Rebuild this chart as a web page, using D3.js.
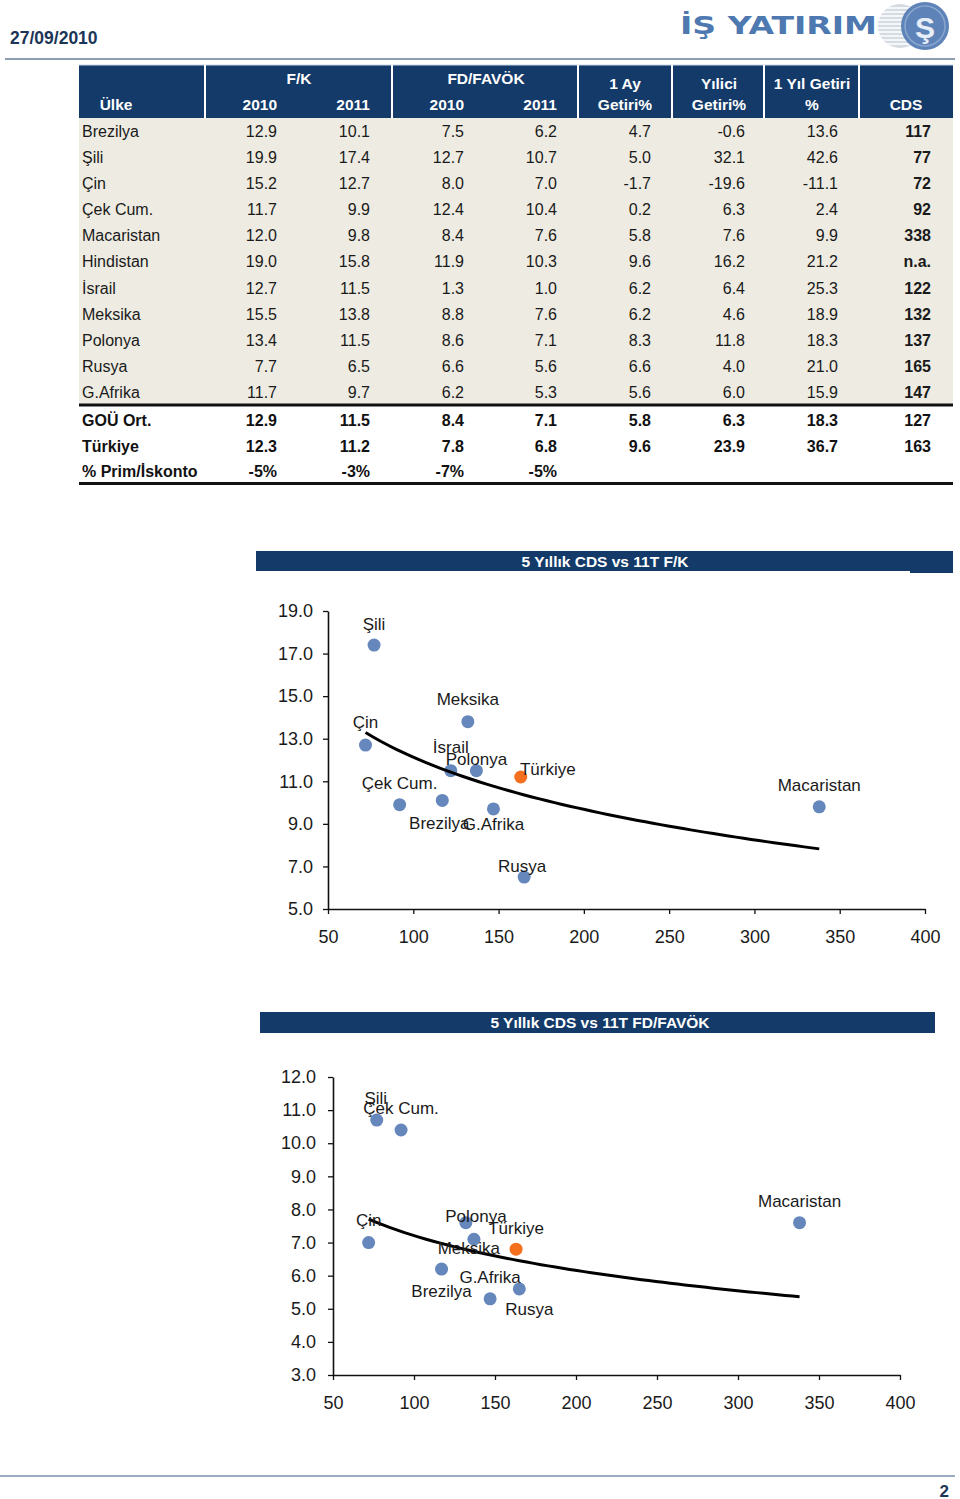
<!DOCTYPE html>
<html><head><meta charset="utf-8">
<script src="https://cdn.jsdelivr.net/npm/d3@7"></script>
<style>
html,body{margin:0;padding:0;background:#fff;}
svg{display:block;font-family:"Liberation Sans",Arial,sans-serif;}
</style></head>
<body>
<svg id="page" width="960" height="1499"></svg>
<script>
// ---------- DATA ----------
const countries = ["Brezilya","Şili","Çin","Çek Cum.","Macaristan","Hindistan","İsrail","Meksika","Polonya","Rusya","G.Afrika"];
const fk2010  = [12.9,19.9,15.2,11.7,12.0,19.0,12.7,15.5,13.4,7.7,11.7];
const fk2011  = [10.1,17.4,12.7,9.9,9.8,15.8,11.5,13.8,11.5,6.5,9.7];
const fd2010  = [7.5,12.7,8.0,12.4,8.4,11.9,1.3,8.8,8.6,6.6,6.2];
const fd2011  = [6.2,10.7,7.0,10.4,7.6,10.3,1.0,7.6,7.1,5.6,5.3];
const ret1m   = [4.7,5.0,-1.7,0.2,5.8,9.6,6.2,6.2,8.3,6.6,5.6];
const retYtd  = [-0.6,32.1,-19.6,6.3,7.6,16.2,6.4,4.6,11.8,4.0,6.0];
const ret1y   = [13.6,42.6,-11.1,2.4,9.9,21.2,25.3,18.9,18.3,21.0,15.9];
const cds     = [117,77,72,92,338,null,122,132,137,165,147];

const summaryLabels = ["GOÜ Ort.","Türkiye","% Prim/İskonto"];
const gouAvg   = [12.9,11.5,8.4,7.1,5.8,6.3,18.3,127];
const turkey   = [12.3,11.2,7.8,6.8,9.6,23.9,36.7,163];
const premium  = ["-5%","-3%","-7%","-5%"];
const turkeyName = "Türkiye";

const headerGroups = ["F/K","FD/FAVÖK"];
const headerYears  = ["2010","2011","2010","2011"];
const headerCols   = [["1 Ay","Getiri%"],["Yılici","Getiri%"],["1 Yıl Getiri","%"]];

const xTicks   = [50,100,150,200,250,300,350,400];
const yTicksFK = [5,7,9,11,13,15,17,19];
const yTicksFD = [3,4,5,6,7,8,9,10,11,12];

const title1 = "5 Yıllık CDS vs 11T F/K";
const title2 = "5 Yıllık CDS vs 11T FD/FAVÖK";
const dateText = "27/09/2010";
const pageNo = "2";

// ---------- LAYOUT / STYLE ----------
const NAVY = "#133a68", BLUE = "#6587bc", ORANGE = "#f4701e", BODY_BG = "#eeece2";
const labelOffFK = {"Şili":[0,-21],"Meksika":[0,-23],"Çin":[0,-23],"İsrail":[0,-24],"Polonya":[0,-12],
  "Türkiye":[27,-8],"Çek Cum.":[0,-22],"Macaristan":[0,-22],"Brezilya":[-3,22],"G.Afrika":[0,15],"Rusya":[-2,-11]};
const labelOffFD = {"Şili":[-1,-22],"Çek Cum.":[0,-22],"Macaristan":[0,-22],"Çin":[0,-23],"Polonya":[2,-23],
  "Meksika":[3,25],"Türkiye":[0,-21],"G.Afrika":[0,-22],"Brezilya":[0,22],"Rusya":[10,20]};

const svg = d3.select("#page");
const f1 = v => v.toFixed(1);

// ---------- PAGE HEADER ----------
svg.append("text").attr("x",10).attr("y",38).attr("dy","0.35em")
  .attr("font-size",17.5).attr("font-weight","bold").attr("fill","#1d3557").text(dateText);
svg.append("line").attr("x1",5).attr("x2",955).attr("y1",59).attr("y2",59)
  .attr("stroke","#8d9db2").attr("stroke-width",2);
// logo
const logo = svg.append("g");
logo.append("text").attr("x",680).attr("y",25).attr("dy","0.36em")
  .attr("font-family","DejaVu Sans").attr("font-weight","bold").attr("font-size",24)
  .attr("fill","#4e78b0").attr("textLength",197).attr("lengthAdjust","spacingAndGlyphs").text("İŞ YATIRIM");
logo.append("circle").attr("cx",900).attr("cy",26).attr("r",22).attr("fill","#d5dbe2");
d3.range(8,46,4).forEach(k=>logo.append("line").attr("x1",878).attr("x2",922)
  .attr("y1",k).attr("y2",k).attr("stroke","#fff").attr("stroke-width",1.3));
logo.append("circle").attr("cx",925).attr("cy",26).attr("r",24).attr("fill","#5e83b8");
logo.append("circle").attr("cx",925).attr("cy",26).attr("r",20).attr("fill","none").attr("stroke","#89a6cf").attr("stroke-width",1.5);
logo.append("text").attr("x",925).attr("y",27).attr("dy","0.35em").attr("text-anchor","middle")
  .attr("font-size",30).attr("font-weight","bold").attr("fill","#e8eef7").text("Ş");

// ---------- TABLE ----------
const T = {x0:79,x1:953,hTop:65,hBot:118,bodyBot:404};
const colRight = [277,370,464,557,651,745,838,931];
const seps = [205,392,578,672,764,859];
svg.append("rect").attr("x",T.x0).attr("y",T.hTop).attr("width",T.x1-T.x0).attr("height",T.hBot-T.hTop).attr("fill",NAVY);
svg.append("rect").attr("x",T.x0).attr("y",T.hBot).attr("width",T.x1-T.x0).attr("height",T.bodyBot-T.hBot).attr("fill",BODY_BG);
svg.append("line").attr("x1",T.x0).attr("x2",T.x1).attr("y1",T.hTop).attr("y2",T.hTop).attr("stroke","#c9d6e6").attr("stroke-width",1);
seps.forEach(s=>svg.append("line").attr("x1",s).attr("x2",s).attr("y1",T.hTop).attr("y2",T.hBot).attr("stroke","#fff").attr("stroke-width",2));
const hdr = svg.append("g").attr("fill","#fff").attr("font-weight","bold").attr("font-size",15.5).attr("text-anchor","middle");
hdr.append("text").attr("x",116).attr("y",105).attr("dy","0.35em").text("Ülke");
headerGroups.forEach((g,i)=>hdr.append("text").attr("x",[299,486][i]).attr("y",79).attr("dy","0.35em").text(g));
headerYears.forEach((g,i)=>hdr.append("text").attr("x",colRight[i]).attr("y",105).attr("dy","0.35em").attr("text-anchor","end").text(g));
headerCols.forEach((c,i)=>{
  const cx=[625,719,812][i];
  hdr.append("text").attr("x",cx).attr("y",84).attr("dy","0.35em").text(c[0]);
  hdr.append("text").attr("x",cx).attr("y",105).attr("dy","0.35em").text(c[1]);
});
hdr.append("text").attr("x",906).attr("y",105).attr("dy","0.35em").text("CDS");

const rowY = d3.scaleLinear().domain([0,10]).range([131,392.5]);
const body = svg.append("g").attr("font-size",16).attr("fill","#1a1a1a");
countries.forEach((c,i)=>{
  const y = rowY(i);
  body.append("text").attr("x",82).attr("y",y).attr("dy","0.35em").text(c);
  const vals=[fk2010[i],fk2011[i],fd2010[i],fd2011[i],ret1m[i],retYtd[i],ret1y[i]];
  vals.forEach((v,j)=>body.append("text").attr("x",colRight[j]).attr("y",y).attr("dy","0.35em").attr("text-anchor","end").text(f1(v)));
  body.append("text").attr("x",colRight[7]).attr("y",y).attr("dy","0.35em").attr("text-anchor","end")
    .attr("font-weight","bold").text(cds[i]==null?"n.a.":cds[i]);
});
svg.append("rect").attr("x",T.x0).attr("y",403.5).attr("width",T.x1-T.x0).attr("height",3).attr("fill","#111");
svg.append("rect").attr("x",T.x0).attr("y",482).attr("width",T.x1-T.x0).attr("height",3).attr("fill","#111");
const sumY=[420,446,471];
const sumRows=[gouAvg,turkey,premium];
const sg = svg.append("g").attr("font-size",16).attr("font-weight","bold").attr("fill","#111");
summaryLabels.forEach((l,i)=>{
  sg.append("text").attr("x",82).attr("y",sumY[i]).attr("dy","0.35em").text(l);
  sumRows[i].forEach((v,j)=>sg.append("text").attr("x",colRight[j]).attr("y",sumY[i]).attr("dy","0.35em")
    .attr("text-anchor","end").text(typeof v==="string"?v:(j===7?v:f1(v))));
});

// ---------- SCATTER CHARTS ----------
function logFit(xs,ys){
  const lx=xs.map(Math.log), mx=d3.mean(lx), my=d3.mean(ys);
  const b=d3.sum(lx,(v,i)=>(v-mx)*(ys[i]-my))/d3.sum(lx,v=>(v-mx)**2);
  return {a:my-b*mx,b};
}
function scatter(opt){
  const g = svg.append("g");
  g.append("rect").attr("x",opt.bar[0]).attr("y",opt.bar[1]).attr("width",opt.bar[2]).attr("height",opt.bar[3]).attr("fill",NAVY);
  if(opt.step) g.append("rect").attr("x",opt.step[0]).attr("y",opt.step[1]).attr("width",opt.step[2]).attr("height",opt.step[3]).attr("fill",NAVY);
  g.append("text").attr("x",opt.titleX).attr("y",opt.bar[1]+opt.bar[3]/2).attr("dy","0.36em").attr("text-anchor","middle")
    .attr("fill","#fff").attr("font-weight","bold").attr("font-size",15.5).text(opt.title);
  const x = d3.scaleLinear().domain([50,400]).range(opt.xr);
  const y = d3.scaleLinear().domain(opt.yd).range(opt.yr);
  const ax = g.append("g").attr("transform",`translate(0,${opt.yr[0]})`)
    .call(d3.axisBottom(x).tickValues(xTicks).tickSize(5).tickSizeOuter(0).tickPadding(16).tickFormat(d3.format("d")));
  const ay = g.append("g").attr("transform",`translate(${opt.xr[0]},0)`)
    .call(d3.axisLeft(y).tickValues(opt.yt).tickSize(5).tickSizeOuter(0).tickPadding(opt.yPad).tickFormat(f1));
  [ax,ay].forEach(a=>{
    a.select(".domain").attr("stroke","#111").attr("stroke-width",1.6);
    a.selectAll(".tick line").attr("stroke","#111").attr("stroke-width",1.3);
    a.selectAll(".tick text").attr("font-size",18).attr("fill","#1a1a1a").attr("font-family","Liberation Sans, Arial");
  });
  // trend (log fit over country points)
  const idx = countries.map((c,i)=>i).filter(i=>cds[i]!=null);
  const xs = idx.map(i=>cds[i]), ys = idx.map(i=>opt.vals[i]);
  const fit = logFit(xs,ys);
  const [xmin,xmax]=d3.extent(xs);
  const tr = d3.range(0,61).map(k=>{const xv=xmin+(xmax-xmin)*k/60;return [x(xv),y(fit.a+fit.b*Math.log(xv))];});
  const pts = idx.filter(i=>opt.vals[i]>=opt.yd[0]&&opt.vals[i]<=opt.yd[1])
    .map(i=>({name:countries[i],cx:cds[i],cy:opt.vals[i],c:BLUE}));
  pts.push({name:turkeyName,cx:turkey[7],cy:opt.tval,c:ORANGE});
  g.selectAll("circle.p").data(pts).join("circle").attr("class","p")
    .attr("cx",d=>x(d.cx)).attr("cy",d=>y(d.cy)).attr("r",6.5).attr("fill",d=>d.c);
  g.append("path").attr("d",d3.line()(tr)).attr("fill","none").attr("stroke","#000").attr("stroke-width",3);
  g.selectAll("text.lbl").data(pts).join("text").attr("class","lbl")
    .attr("x",d=>x(d.cx)+(opt.off[d.name]||[0,-22])[0]).attr("y",d=>y(d.cy)+(opt.off[d.name]||[0,-22])[1])
    .attr("dy","0.36em").attr("text-anchor","middle").attr("font-size",17).attr("fill","#1a1a1a").text(d=>d.name);
}
scatter({title:title1,bar:[256,551,697,20],step:[910,569,43,4],titleX:605,
  xr:[328,925],yd:[5,19],yr:[909,611],yt:yTicksFK,yPad:10,vals:fk2011,tval:turkey[1],off:labelOffFK});
scatter({title:title2,bar:[260,1012,675,21],titleX:600,
  xr:[333,900],yd:[3,12],yr:[1375,1077],yt:yTicksFD,yPad:12,vals:fd2011,tval:turkey[3],off:labelOffFD});

// ---------- FOOTER ----------
svg.append("line").attr("x1",0).attr("x2",955).attr("y1",1476).attr("y2",1476).attr("stroke","#9aabbf").attr("stroke-width",2);
svg.append("text").attr("x",949).attr("y",1491).attr("dy","0.35em").attr("text-anchor","end")
  .attr("font-size",17).attr("font-weight","bold").attr("fill","#1d3557").text(pageNo);
</script>
</body></html>
